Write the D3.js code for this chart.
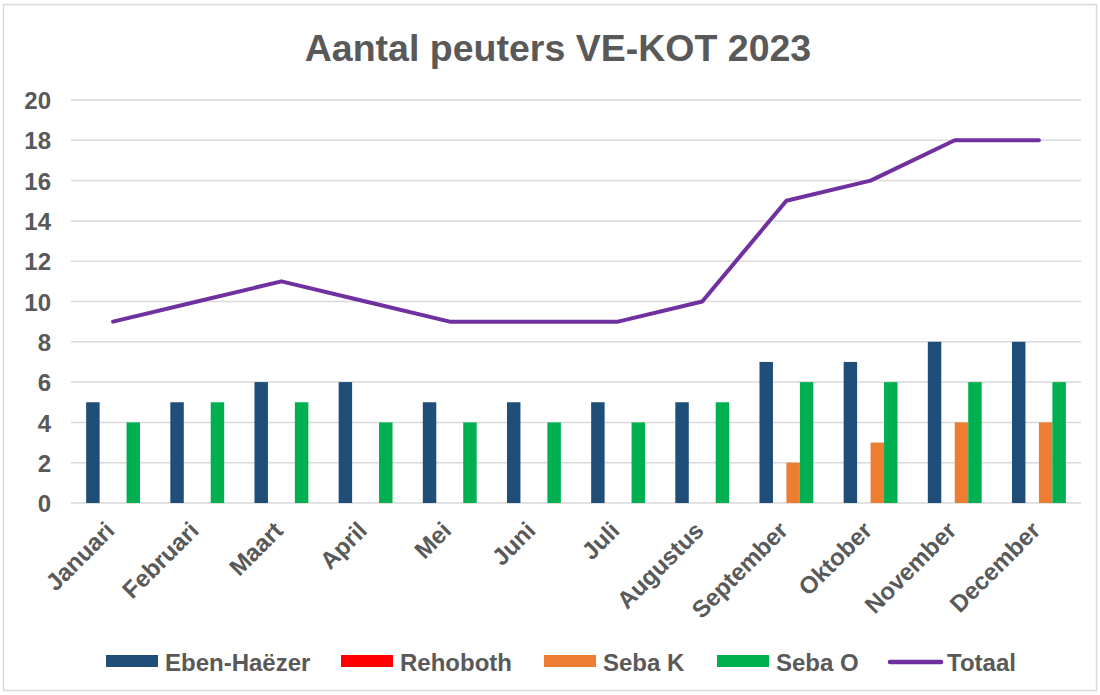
<!DOCTYPE html>
<html>
<head>
<meta charset="utf-8">
<style>
  body { margin: 0; background: #fff; }
  text { font-family: "Liberation Sans", Arial, sans-serif; font-weight: bold; fill: #595959; }
</style>
</head>
<body>
<svg width="1100" height="695"></svg>
<script src="https://d3js.org/d3.v7.min.js"></script>
<script>
var months = ["Januari", "Februari", "Maart", "April", "Mei", "Juni", "Juli", "Augustus", "September", "Oktober", "November", "December"];
var seriesNames = ["Eben-Haëzer", "Rehoboth", "Seba K", "Seba O"];
var ebenHaezer = [5, 5, 6, 6, 5, 5, 5, 5, 7, 7, 8, 8];
var rehoboth = [0, 0, 0, 0, 0, 0, 0, 0, 0, 0, 0, 0];
var sebaK = [0, 0, 0, 0, 0, 0, 0, 0, 2, 3, 4, 4];
var sebaO = [4, 5, 5, 4, 4, 4, 4, 5, 6, 6, 6, 6];
var totaal = [9, 10, 11, 10, 9, 9, 9, 10, 15, 16, 18, 18];
var yTicks = [0, 2, 4, 6, 8, 10, 12, 14, 16, 18, 20];

var colors = ["#1f4e79", "#ff0000", "#ed7d31", "#00b050"];
var lineColor = "#7030a0";

var svg = d3.select("svg");

// outer frame
svg.append("rect")
  .attr("x", 3.5).attr("y", 4.5).attr("width", 1093).attr("height", 686)
  .attr("fill", "#fff").attr("stroke", "#d9d9d9").attr("stroke-width", 1.5);

var margin = {top: 100, left: 71, right: 19, bottom: 192};
var width = 1100 - margin.left - margin.right,
    height = 695 - margin.top - margin.bottom;

var g = svg.append("g").attr("transform", "translate(" + margin.left + "," + margin.top + ")");

var x = d3.scaleBand().domain(months).range([0, width]).paddingInner(0.36).paddingOuter(0.18);
var x1 = d3.scaleBand().domain(seriesNames).range([0, x.bandwidth()]);
var y = d3.scaleLinear().domain([0, 20]).range([height, 0]);

// title
svg.append("text")
  .attr("x", 558).attr("y", 61)
  .attr("text-anchor", "middle")
  .style("font-size", "37.5px")
  .text("Aantal peuters VE-KOT 2023");

// gridlines
g.append("g").selectAll("line").data(yTicks).join("line")
  .attr("x1", 0).attr("x2", width)
  .attr("y1", d => y(d)).attr("y2", d => y(d))
  .attr("stroke", "#d9d9d9").attr("stroke-width", 1.5);

// y axis labels
var yAxis = g.append("g")
  .call(d3.axisLeft(y).tickValues(yTicks).tickSize(0).tickPadding(20));
yAxis.select(".domain").remove();
yAxis.selectAll("text").style("font-size", "24px").attr("fill", "#595959").attr("dy", "0.36em");

// x axis labels
var xAxis = g.append("g")
  .attr("transform", "translate(0," + height + ")")
  .call(d3.axisBottom(x).tickSize(0).tickPadding(0));
xAxis.select(".domain").remove();
xAxis.selectAll("text")
  .style("font-size", "24px")
  .attr("fill", "#595959")
  .attr("text-anchor", "end")
  .attr("y", 0)
  .attr("dy", 0)
  .attr("transform", "translate(3,29) rotate(-45)");

// bars
var values = [ebenHaezer, rehoboth, sebaK, sebaO];
var barData = [];
months.forEach(function(m, i) {
  seriesNames.forEach(function(s, j) {
    barData.push({month: m, series: s, value: values[j][i], color: colors[j]});
  });
});

g.append("g").selectAll("rect").data(barData).join("rect")
  .attr("x", d => x(d.month) + x1(d.series))
  .attr("y", d => y(d.value))
  .attr("width", x1.bandwidth())
  .attr("height", d => y(0) - y(d.value))
  .attr("fill", d => d.color);

// line
var line = d3.line()
  .x((d, i) => x(months[i]) + x.bandwidth() / 2)
  .y(d => y(d));

g.append("path")
  .datum(totaal)
  .attr("fill", "none")
  .attr("stroke", lineColor)
  .attr("stroke-width", 4)
  .attr("stroke-linejoin", "round")
  .attr("stroke-linecap", "round")
  .attr("d", line);

// legend
var legendItems = [
  {name: "Eben-Haëzer", color: colors[0], x: 106, type: "rect"},
  {name: "Rehoboth", color: colors[1], x: 341, type: "rect"},
  {name: "Seba K", color: colors[2], x: 544, type: "rect"},
  {name: "Seba O", color: colors[3], x: 717, type: "rect"},
  {name: "Totaal", color: lineColor, x: 888, type: "line"}
];
var legend = svg.append("g");
legendItems.forEach(function(d) {
  if (d.type === "rect") {
    legend.append("rect").attr("x", d.x).attr("y", 655).attr("width", 52).attr("height", 12).attr("fill", d.color);
  } else {
    legend.append("line").attr("x1", d.x + 2).attr("x2", d.x + 53).attr("y1", 662).attr("y2", 662)
      .attr("stroke", d.color).attr("stroke-width", 4.5).attr("stroke-linecap", "round");
  }
  legend.append("text").attr("x", d.x + 59).attr("y", 671).style("font-size", "24px").text(d.name);
});
</script>
</body>
</html>
